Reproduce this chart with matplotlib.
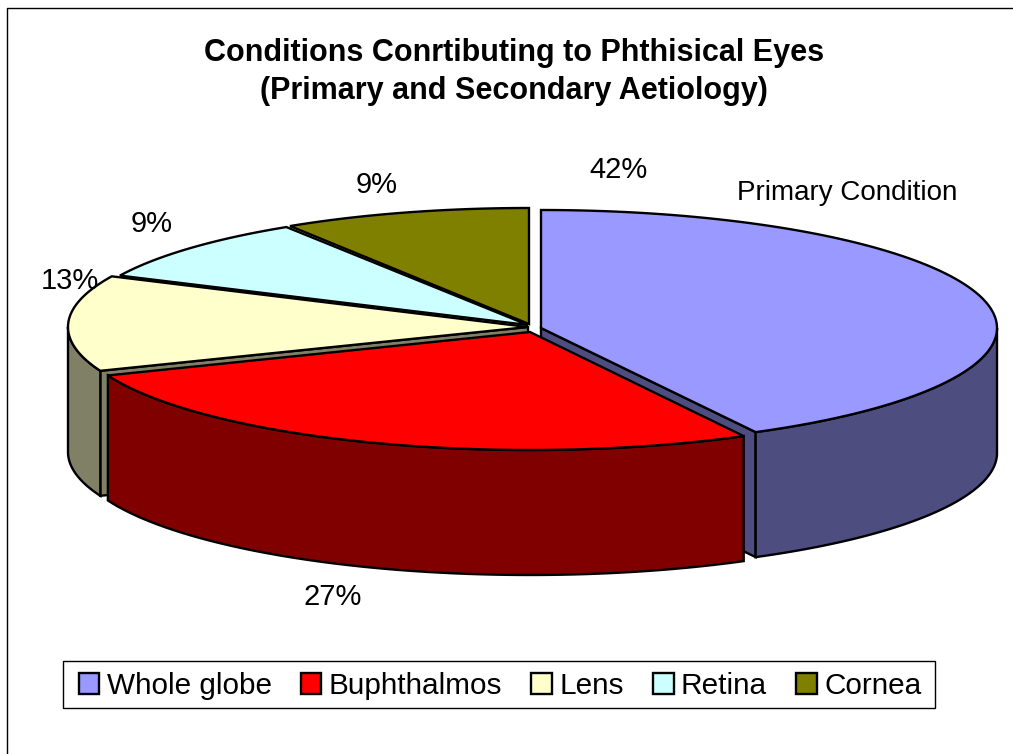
import numpy as np
import matplotlib
matplotlib.use('Agg')
import matplotlib.pyplot as plt
from matplotlib.patches import Polygon, Patch, Rectangle

plt.rcParams['font.family'] = ['Liberation Sans', 'DejaVu Sans']

# Datos
categorias = ['Whole globe', 'Buphthalmos', 'Lens', 'Retina', 'Cornea']
valores = [42.2, 26.8, 13.0, 9.0, 9.0]
colores = ['#9999FF', '#FF0000', '#FFFFCC', '#CCFFFF', '#808000']
lados = ['#4D4D80', '#800000', '#808066', '#668080', '#404000']

# Geometria de la torta (en pixeles de la imagen)
centros = [(541, 328), (530, 332), (528, 327), (528, 325), (529, 324)]
radios_x = [456, 454, 460, 451, 446]
radios_y = [118, 118, 119, 116, 116]
alto = 125
etiquetas_pos = [(619, 170), (333, 597), (70, 281), (152, 224), (377, 185)]


def arco(i, a1, a2):
    # angulos en grados, desde las 12 en sentido horario
    t = np.radians(np.linspace(a1, a2, 120))
    c = centros[i]
    return np.column_stack([c[0] + radios_x[i] * np.sin(t), c[1] - radios_y[i] * np.cos(t)])


fig = plt.figure(figsize=(10.13, 7.54), dpi=100)
ax = fig.add_axes([0, 0, 1, 1])
ax.set_xlim(0, 1013)
ax.set_ylim(754, 0)
ax.axis('off')

acum = np.concatenate([[0], np.cumsum(valores)]) * 360 / sum(valores)
lw = 1.7


def cara_corte(i, ang):
    c = centros[i]
    p = arco(i, ang, ang)[0]
    pts = [c, p, (p[0], p[1] + alto), (c[0], c[1] + alto)]
    ax.add_patch(Polygon(pts, fc=lados[i], ec='k', lw=lw))


def lado(i, a1, a2):
    arr = arco(i, a1, a2)
    abajo = arr[::-1] + [0, alto]
    ax.add_patch(Polygon(np.vstack([arr, abajo]), fc=lados[i], ec='k', lw=lw))


def tapa(i):
    arr = arco(i, acum[i], acum[i + 1])
    ax.add_patch(Polygon(np.vstack([[centros[i]], arr]), fc=colores[i], ec='k', lw=lw))


# Orden de pintado: de atras hacia adelante
tapa(4)
tapa(3)
cara_corte(2, acum[2])
lado(2, acum[2], 270)
tapa(2)
cara_corte(0, acum[1])
lado(0, 90, acum[1])
tapa(0)
lado(1, acum[1], acum[2])
tapa(1)

for v, (x, y) in zip(valores, etiquetas_pos):
    ax.text(x, y, f'{v:.0f}%', fontsize=21, ha='center', va='center', color='k')

ax.text(847, 193, 'Primary Condition', fontsize=20, ha='center', va='center')
ax.text(514, 72, 'Conditions Conrtibuting to Phthisical Eyes\n(Primary and Secondary Aetiology)',
        fontsize=22, fontweight='bold', ha='center', va='center', linespacing=1.38)

# Marco del grafico
ax.plot([7, 7, 1013], [754, 8, 8], color='k', lw=1, clip_on=False)

# Leyenda
ax.add_patch(Rectangle((63, 661), 872, 47, fc='white', ec='k', lw=1))
handles = [Patch(fc=col, ec='k', lw=1.7) for col in colores]
leg = ax.legend(handles, categorias, ncol=5, loc='center', bbox_to_anchor=(500, 686),
                bbox_transform=ax.transData, fontsize=21.4, frameon=False,
                handlelength=0.7, handleheight=0.7,
                handletextpad=0.25, columnspacing=0.97, borderpad=0.35)

fig.savefig('out.png', dpi=100)
